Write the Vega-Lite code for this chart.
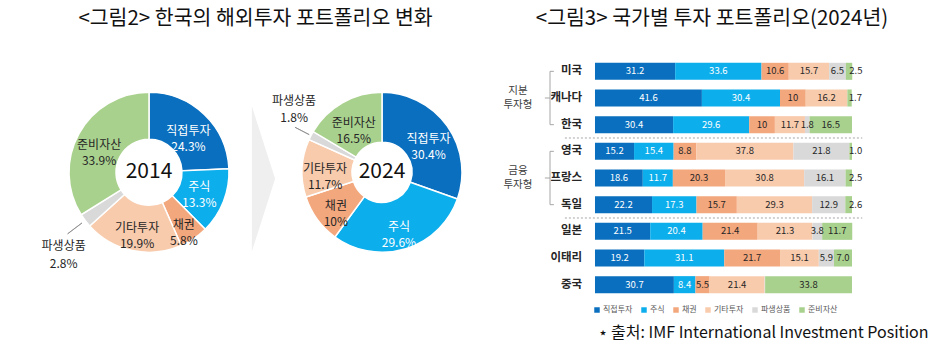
{
  "$schema": "https://vega.github.io/schema/vega-lite/v6.json",
  "background": "white",
  "padding": {"left": 35, "top": 8, "right": 0, "bottom": 12},
  "spacing": 0,
  "bounds": "flush",
  "config": {
    "view": {"stroke": null},
    "font": "Noto Sans CJK KR",
    "title": {"fontSize": 20.5, "fontWeight": "normal", "color": "#111111", "font": "Noto Sans CJK KR"}
  },
  "resolve": {"scale": {"color": "independent", "theta": "independent"}, "legend": {"color": "independent"}},
  "datasets": {
    "d2014": [
      {"type": "직접투자", "value": 24.3, "label": "직접투자\n24.3%", "k": 1},
      {"type": "주식", "value": 13.3, "label": "주식\n13.3%", "k": 2},
      {"type": "채권", "value": 5.8, "label": "채권\n5.8%", "k": 3},
      {"type": "기타투자", "value": 19.9, "label": "기타투자\n19.9%", "k": 4},
      {"type": "파생상품", "value": 2.8, "label": "파생상품\n2.8%", "k": 5},
      {"type": "준비자산", "value": 33.9, "label": "준비자산\n33.9%", "k": 6}
    ],
    "d2024": [
      {"type": "직접투자", "value": 30.4, "label": "직접투자\n30.4%", "k": 1},
      {"type": "주식", "value": 29.6, "label": "주식\n29.6%", "k": 2},
      {"type": "채권", "value": 10, "label": "채권\n10%", "k": 3},
      {"type": "기타투자", "value": 11.7, "label": "기타투자\n11.7%", "k": 4},
      {"type": "파생상품", "value": 1.8, "label": "파생상품\n1.8%", "k": 5},
      {"type": "준비자산", "value": 16.5, "label": "준비자산\n16.5%", "k": 6}
    ],
    "bars": [
      {"country": "미국", "type": "직접투자", "k": 1, "value": 31.2, "label": "31.2"},
      {"country": "미국", "type": "주식", "k": 2, "value": 33.6, "label": "33.6"},
      {"country": "미국", "type": "채권", "k": 3, "value": 10.6, "label": "10.6"},
      {"country": "미국", "type": "기타투자", "k": 4, "value": 15.7, "label": "15.7"},
      {"country": "미국", "type": "파생상품", "k": 5, "value": 6.5, "label": "6.5"},
      {"country": "미국", "type": "준비자산", "k": 6, "value": 2.5, "label": "2.5"},
      {"country": "캐나다", "type": "직접투자", "k": 1, "value": 41.6, "label": "41.6"},
      {"country": "캐나다", "type": "주식", "k": 2, "value": 30.4, "label": "30.4"},
      {"country": "캐나다", "type": "채권", "k": 3, "value": 10, "label": "10"},
      {"country": "캐나다", "type": "기타투자", "k": 4, "value": 16.2, "label": "16.2"},
      {"country": "캐나다", "type": "준비자산", "k": 6, "value": 1.7, "label": "1.7"},
      {"country": "한국", "type": "직접투자", "k": 1, "value": 30.4, "label": "30.4"},
      {"country": "한국", "type": "주식", "k": 2, "value": 29.6, "label": "29.6"},
      {"country": "한국", "type": "채권", "k": 3, "value": 10, "label": "10"},
      {"country": "한국", "type": "기타투자", "k": 4, "value": 11.7, "label": "11.7"},
      {"country": "한국", "type": "파생상품", "k": 5, "value": 1.8, "label": "1.8"},
      {"country": "한국", "type": "준비자산", "k": 6, "value": 16.5, "label": "16.5"},
      {"country": "영국", "type": "직접투자", "k": 1, "value": 15.2, "label": "15.2"},
      {"country": "영국", "type": "주식", "k": 2, "value": 15.4, "label": "15.4"},
      {"country": "영국", "type": "채권", "k": 3, "value": 8.8, "label": "8.8"},
      {"country": "영국", "type": "기타투자", "k": 4, "value": 37.8, "label": "37.8"},
      {"country": "영국", "type": "파생상품", "k": 5, "value": 21.8, "label": "21.8"},
      {"country": "영국", "type": "준비자산", "k": 6, "value": 1.0, "label": "1.0"},
      {"country": "프랑스", "type": "직접투자", "k": 1, "value": 18.6, "label": "18.6"},
      {"country": "프랑스", "type": "주식", "k": 2, "value": 11.7, "label": "11.7"},
      {"country": "프랑스", "type": "채권", "k": 3, "value": 20.3, "label": "20.3"},
      {"country": "프랑스", "type": "기타투자", "k": 4, "value": 30.8, "label": "30.8"},
      {"country": "프랑스", "type": "파생상품", "k": 5, "value": 16.1, "label": "16.1"},
      {"country": "프랑스", "type": "준비자산", "k": 6, "value": 2.5, "label": "2.5"},
      {"country": "독일", "type": "직접투자", "k": 1, "value": 22.2, "label": "22.2"},
      {"country": "독일", "type": "주식", "k": 2, "value": 17.3, "label": "17.3"},
      {"country": "독일", "type": "채권", "k": 3, "value": 15.7, "label": "15.7"},
      {"country": "독일", "type": "기타투자", "k": 4, "value": 29.3, "label": "29.3"},
      {"country": "독일", "type": "파생상품", "k": 5, "value": 12.9, "label": "12.9"},
      {"country": "독일", "type": "준비자산", "k": 6, "value": 2.6, "label": "2.6"},
      {"country": "일본", "type": "직접투자", "k": 1, "value": 21.5, "label": "21.5"},
      {"country": "일본", "type": "주식", "k": 2, "value": 20.4, "label": "20.4"},
      {"country": "일본", "type": "채권", "k": 3, "value": 21.4, "label": "21.4"},
      {"country": "일본", "type": "기타투자", "k": 4, "value": 21.3, "label": "21.3"},
      {"country": "일본", "type": "파생상품", "k": 5, "value": 3.8, "label": "3.8"},
      {"country": "일본", "type": "준비자산", "k": 6, "value": 11.7, "label": "11.7"},
      {"country": "이태리", "type": "직접투자", "k": 1, "value": 19.2, "label": "19.2"},
      {"country": "이태리", "type": "주식", "k": 2, "value": 31.1, "label": "31.1"},
      {"country": "이태리", "type": "채권", "k": 3, "value": 21.7, "label": "21.7"},
      {"country": "이태리", "type": "기타투자", "k": 4, "value": 15.1, "label": "15.1"},
      {"country": "이태리", "type": "파생상품", "k": 5, "value": 5.9, "label": "5.9"},
      {"country": "이태리", "type": "준비자산", "k": 6, "value": 7.0, "label": "7.0"},
      {"country": "중국", "type": "직접투자", "k": 1, "value": 30.7, "label": "30.7"},
      {"country": "중국", "type": "주식", "k": 2, "value": 8.4, "label": "8.4"},
      {"country": "중국", "type": "채권", "k": 3, "value": 5.5, "label": "5.5"},
      {"country": "중국", "type": "기타투자", "k": 4, "value": 21.4, "label": "21.4"},
      {"country": "중국", "type": "파생상품", "k": 5, "value": 0.2, "label": ""},
      {"country": "중국", "type": "준비자산", "k": 6, "value": 33.8, "label": "33.8"}
    ],
    "groups": [
      {"group": "지분\n투자형", "first": "미국", "mid": "캐나다", "last": "한국"},
      {"group": "금융\n투자형", "first": "영국", "mid": "프랑스", "last": "독일"}
    ]
  },
  "hconcat": [
    {
      "width": 228,
      "height": 228.6,
      "data": {"name": "d2014"},
      "layer": [
        {
          "mark": {"type": "arc", "innerRadius": 33, "outerRadius": 80, "stroke": "white", "strokeWidth": 1.5},
          "encoding": {
            "theta": {"field": "value", "type": "quantitative", "stack": true},
            "order": {"field": "k", "type": "quantitative"},
            "color": {"field": "type", "type": "nominal", "legend": null,
              "scale": {"domain": ["직접투자", "주식", "채권", "기타투자", "파생상품", "준비자산"],
                        "range": ["#0A6FBE", "#0DAEEC", "#F3A77D", "#F8CBAD", "#D9D9D9", "#A9D18E"]}}
          }
        },
        {
          "mark": {"type": "arc", "innerRadius": 84, "outerRadius": 102, "padAngle": 1, "filled": false, "stroke": "#8C8C8C", "strokeWidth": 0.8},
          "encoding": {
            "theta": {"field": "value", "type": "quantitative", "stack": true},
            "order": {"field": "k", "type": "quantitative"},
            "detail": {"field": "type"},
            "strokeOpacity": {"condition": {"test": "datum.type === '파생상품'", "value": 1}, "value": 0}
          }
        },
        {
          "mark": {"type": "text", "radius": 57, "fontSize": 12, "lineBreak": "\n", "lineHeight": 16},
          "encoding": {
            "theta": {"field": "value", "type": "quantitative", "stack": true},
            "order": {"field": "k", "type": "quantitative"},
            "detail": {"field": "type"},
            "text": {"condition": {"test": "datum.k !== 5 && datum.k !== 3 && datum.k !== 2", "field": "label"}, "value": ""},
            "color": {"condition": {"test": "datum.k <= 2", "value": "white"}, "value": "#262626"}
          }
        },
        {
          "mark": {"type": "text", "radius": 54, "dy": -5, "fontSize": 12, "lineBreak": "\n", "lineHeight": 16, "color": "white"},
          "encoding": {
            "theta": {"field": "value", "type": "quantitative", "stack": true},
            "order": {"field": "k", "type": "quantitative"},
            "detail": {"field": "type"},
            "text": {"condition": {"test": "datum.k === 2", "field": "label"}, "value": ""}
          }
        },
        {
          "mark": {"type": "text", "radius": 62, "dy": 1, "fontSize": 12, "lineBreak": "\n", "lineHeight": 16, "color": "#262626"},
          "encoding": {
            "theta": {"field": "value", "type": "quantitative", "stack": true},
            "order": {"field": "k", "type": "quantitative"},
            "detail": {"field": "type"},
            "text": {"condition": {"test": "datum.k === 3", "field": "label"}, "value": ""}
          }
        },
        {
          "mark": {"type": "text", "radius": 117, "dx": 8, "dy": 3, "fontSize": 12, "lineBreak": "\n", "lineHeight": 18, "color": "#262626"},
          "encoding": {
            "theta": {"field": "value", "type": "quantitative", "stack": true},
            "order": {"field": "k", "type": "quantitative"},
            "detail": {"field": "type"},
            "text": {"condition": {"test": "datum.type === '파생상품'", "field": "label"}, "value": ""}
          }
        },
        {
          "data": {"values": [{"year": "2014"}]},
          "mark": {"type": "text", "fontSize": 21, "color": "#111111"},
          "encoding": {"text": {"field": "year"}}
        }
      ]
    },
    {
      "width": 1,
      "height": 228.6,
      "title": {"text": "<그림2> 한국의 해외투자 포트폴리오 변화", "anchor": "middle", "frame": "group", "dx": -8, "offset": 29},
      "data": {"values": [{"item": "arrow"}]},
      "mark": {"type": "point", "shape": "M -0.16 -0.91 L 0.16 0.09 L -0.16 1.09 Z", "size": 21025, "filled": true, "fill": "#EFEFEF", "opacity": 1, "strokeWidth": 0},
      "encoding": {}
    },
    {
      "width": 236,
      "height": 228.6,
      "data": {"name": "d2024"},
      "layer": [
        {
          "mark": {"type": "arc", "innerRadius": 30, "outerRadius": 80, "stroke": "white", "strokeWidth": 1.5},
          "encoding": {
            "theta": {"field": "value", "type": "quantitative", "stack": true},
            "order": {"field": "k", "type": "quantitative"},
            "color": {"field": "type", "type": "nominal", "legend": null,
              "scale": {"domain": ["직접투자", "주식", "채권", "기타투자", "파생상품", "준비자산"],
                        "range": ["#0A6FBE", "#0DAEEC", "#F3A77D", "#F8CBAD", "#D9D9D9", "#A9D18E"]}}
          }
        },
        {
          "mark": {"type": "arc", "innerRadius": 82, "outerRadius": 98, "padAngle": 1, "filled": false, "stroke": "#8C8C8C", "strokeWidth": 0.8},
          "encoding": {
            "theta": {"field": "value", "type": "quantitative", "stack": true},
            "order": {"field": "k", "type": "quantitative"},
            "detail": {"field": "type"},
            "strokeOpacity": {"condition": {"test": "datum.type === '파생상품'", "value": 1}, "value": 0}
          }
        },
        {
          "mark": {"type": "text", "radius": 57, "fontSize": 12, "lineBreak": "\n", "lineHeight": 16},
          "encoding": {
            "theta": {"field": "value", "type": "quantitative", "stack": true},
            "order": {"field": "k", "type": "quantitative"},
            "detail": {"field": "type"},
            "text": {"condition": {"test": "datum.type !== '파생상품'", "field": "label"}, "value": ""},
            "color": {"condition": {"test": "datum.k <= 2", "value": "white"}, "value": "#262626"}
          }
        },
        {
          "mark": {"type": "text", "radius": 108, "dx": 8, "dy": -22, "fontSize": 12, "lineBreak": "\n", "lineHeight": 17, "color": "#262626"},
          "encoding": {
            "theta": {"field": "value", "type": "quantitative", "stack": true},
            "order": {"field": "k", "type": "quantitative"},
            "detail": {"field": "type"},
            "text": {"condition": {"test": "datum.type === '파생상품'", "field": "label"}, "value": ""}
          }
        },
        {
          "data": {"values": [{"year": "2024"}]},
          "mark": {"type": "text", "fontSize": 21, "color": "#111111"},
          "encoding": {"text": {"field": "year"}}
        }
      ]
    },
    {
      "width": 428,
      "height": 240,
      "title": {"text": "<그림3> 국가별 투자 포트폴리오(2024년)", "anchor": "middle", "frame": "group", "dx": -2, "offset": 29},
      "layer": [
        {
          "data": {"name": "bars"},
          "mark": {"type": "bar"},
          "encoding": {
            "y": {"field": "country", "type": "nominal", "axis": null,
                  "scale": {"domain": ["미국", "캐나다", "한국", "영국", "프랑스", "독일", "일본", "이태리", "중국"], "paddingInner": 0.36, "paddingOuter": 0.18}},
            "x": {"field": "value", "type": "quantitative", "stack": "zero",
                  "scale": {"domain": [-36.96, 129.58], "nice": false, "zero": false},
                  "axis": {"orient": "bottom", "labels": false, "ticks": false, "domain": false, "grid": false,
                           "title": "⋆ 출처: IMF International Investment Position", "titleAnchor": "end",
                           "titleFontSize": 16, "titleFontWeight": "normal", "titleColor": "#111111", "titlePadding": 26,
                           "titleFont": "Liberation Sans Narrow, Noto Sans CJK KR"}},
            "color": {"field": "type", "type": "nominal",
              "scale": {"domain": ["직접투자", "주식", "채권", "기타투자", "파생상품", "준비자산"],
                        "range": ["#0A6FBE", "#0DAEEC", "#F3A77D", "#F8CBAD", "#D9D9D9", "#A9D18E"]},
              "legend": {"title": null, "orient": "none", "legendX": 93, "legendY": 248, "direction": "horizontal",
                         "symbolType": "square", "symbolSize": 30, "symbolStrokeWidth": 0, "labelFontSize": 8,
                         "labelColor": "#595959", "columnPadding": 7, "labelOffset": 2}},
            "order": {"field": "k", "type": "quantitative"}
          }
        },
        {
          "data": {"name": "bars"},
          "mark": {"type": "text", "fontSize": 9.5},
          "encoding": {
            "y": {"field": "country", "type": "nominal",
                  "scale": {"domain": ["미국", "캐나다", "한국", "영국", "프랑스", "독일", "일본", "이태리", "중국"], "paddingInner": 0.36, "paddingOuter": 0.18}},
            "x": {"field": "value", "type": "quantitative", "stack": "zero", "bandPosition": 0.5,
                  "scale": {"domain": [-36.96, 129.58], "nice": false, "zero": false}},
            "detail": {"field": "type"},
            "order": {"field": "k", "type": "quantitative"},
            "text": {"condition": {"test": "!(datum.k === 6 && datum.value < 3)", "field": "label"}, "value": ""},
            "color": {"condition": {"test": "datum.k <= 2", "value": "white"}, "value": "#262626"}
          }
        },
        {
          "data": {"name": "bars"},
          "mark": {"type": "text", "fontSize": 9.5, "align": "left", "dx": -3, "color": "#262626"},
          "encoding": {
            "y": {"field": "country", "type": "nominal",
                  "scale": {"domain": ["미국", "캐나다", "한국", "영국", "프랑스", "독일", "일본", "이태리", "중국"], "paddingInner": 0.36, "paddingOuter": 0.18}},
            "x": {"field": "value", "type": "quantitative", "stack": "zero", "bandPosition": 1,
                  "scale": {"domain": [-36.96, 129.58], "nice": false, "zero": false}},
            "detail": {"field": "type"},
            "order": {"field": "k", "type": "quantitative"},
            "text": {"condition": {"test": "datum.k === 6 && datum.value < 3", "field": "label"}, "value": ""}
          }
        },
        {
          "data": {"name": "bars"},
          "transform": [{"aggregate": [{"op": "count", "as": "n"}], "groupby": ["country"]}],
          "mark": {"type": "text", "align": "right", "fontSize": 11.5, "fontWeight": "bold", "color": "#262626"},
          "encoding": {
            "y": {"field": "country", "type": "nominal",
                  "scale": {"domain": ["미국", "캐나다", "한국", "영국", "프랑스", "독일", "일본", "이태리", "중국"], "paddingInner": 0.36, "paddingOuter": 0.18}},
            "x": {"datum": -5, "type": "quantitative"},
            "text": {"field": "country"}
          }
        },
        {
          "data": {"name": "groups"},
          "mark": {"type": "text", "fontSize": 10.5, "lineBreak": "\n", "lineHeight": 14, "dy": -7, "color": "#404040"},
          "encoding": {
            "y": {"field": "mid", "type": "nominal",
                  "scale": {"domain": ["미국", "캐나다", "한국", "영국", "프랑스", "독일", "일본", "이태리", "중국"], "paddingInner": 0.36, "paddingOuter": 0.18}},
            "x": {"datum": -30, "type": "quantitative"},
            "text": {"field": "group"}
          }
        },
        {
          "data": {"name": "groups"},
          "mark": {"type": "rule", "color": "#A6A6A6", "strokeWidth": 1},
          "encoding": {
            "y": {"field": "first", "type": "nominal",
                  "scale": {"domain": ["미국", "캐나다", "한국", "영국", "프랑스", "독일", "일본", "이태리", "중국"], "paddingInner": 0.36, "paddingOuter": 0.18}},
            "y2": {"field": "last"},
            "x": {"datum": -17.5, "type": "quantitative"}
          }
        },
        {
          "data": {"name": "groups"},
          "mark": {"type": "rule", "color": "#A6A6A6", "strokeWidth": 1},
          "encoding": {
            "y": {"field": "first", "type": "nominal",
                  "scale": {"domain": ["미국", "캐나다", "한국", "영국", "프랑스", "독일", "일본", "이태리", "중국"], "paddingInner": 0.36, "paddingOuter": 0.18}},
            "x": {"datum": -17.5, "type": "quantitative"},
            "x2": {"datum": -16}
          }
        },
        {
          "data": {"name": "groups"},
          "mark": {"type": "rule", "color": "#A6A6A6", "strokeWidth": 1},
          "encoding": {
            "y": {"field": "last", "type": "nominal",
                  "scale": {"domain": ["미국", "캐나다", "한국", "영국", "프랑스", "독일", "일본", "이태리", "중국"], "paddingInner": 0.36, "paddingOuter": 0.18}},
            "x": {"datum": -17.5, "type": "quantitative"},
            "x2": {"datum": -16}
          }
        },
        {
          "data": {"name": "groups"},
          "mark": {"type": "rule", "color": "#A6A6A6", "strokeWidth": 1},
          "encoding": {
            "y": {"field": "mid", "type": "nominal",
                  "scale": {"domain": ["미국", "캐나다", "한국", "영국", "프랑스", "독일", "일본", "이태리", "중국"], "paddingInner": 0.36, "paddingOuter": 0.18}},
            "x": {"datum": -19.5, "type": "quantitative"},
            "x2": {"datum": -17.5}
          }
        },
        {
          "data": {"name": "groups"},
          "mark": {"type": "rule", "color": "#A6A6A6", "strokeWidth": 1, "strokeDash": [2, 2]},
          "encoding": {
            "y": {"field": "last", "type": "nominal", "bandPosition": 1.281,
                  "scale": {"domain": ["미국", "캐나다", "한국", "영국", "프랑스", "독일", "일본", "이태리", "중국"], "paddingInner": 0.36, "paddingOuter": 0.18}},
            "x": {"datum": -11.7, "type": "quantitative"},
            "x2": {"datum": 104}
          }
        }
      ]
    }
  ]
}
